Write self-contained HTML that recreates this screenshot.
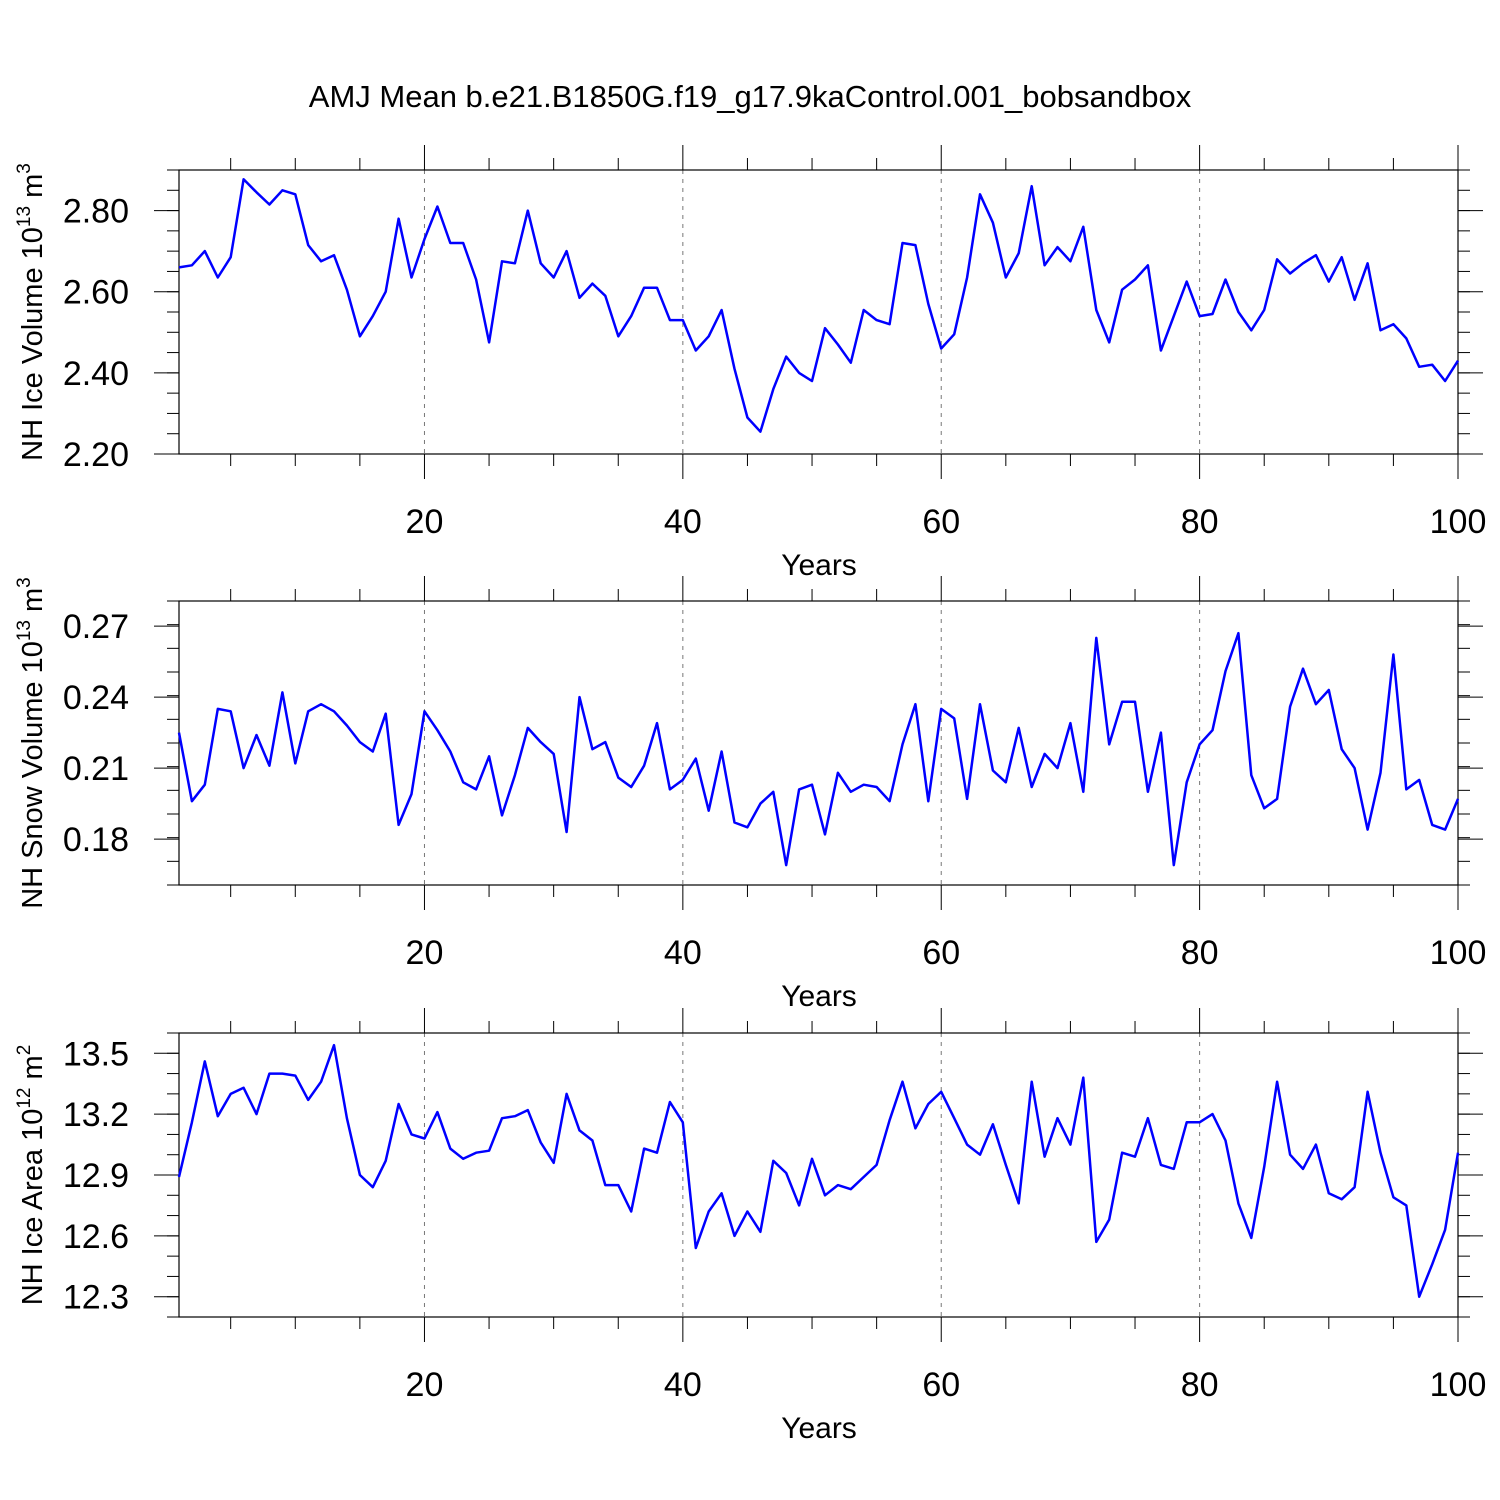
<!DOCTYPE html>
<html><head><meta charset="utf-8"><style>
body{margin:0;background:#fff}
svg{display:block;font-family:"Liberation Sans",sans-serif}
</style></head><body>
<svg id="c" width="1500" height="1500" viewBox="0 0 1500 1500">
<text x="750" y="107" text-anchor="middle" font-size="31">AMJ Mean b.e21.B1850G.f19_g17.9kaControl.001_bobsandbox</text>
</svg>
<script>
const iceVolume=[2.66,2.665,2.70,2.635,2.685,2.877,2.845,2.815,2.85,2.84,2.715,2.675,2.69,2.605,2.49,2.54,2.60,2.78,2.635,2.73,2.81,2.72,2.72,2.63,2.475,2.675,2.67,2.80,2.67,2.635,2.70,2.585,2.62,2.59,2.49,2.54,2.61,2.61,2.53,2.53,2.455,2.49,2.555,2.41,2.29,2.255,2.36,2.44,2.40,2.38,2.51,2.47,2.425,2.555,2.53,2.52,2.72,2.715,2.57,2.46,2.495,2.635,2.84,2.77,2.635,2.695,2.86,2.665,2.71,2.675,2.76,2.555,2.475,2.605,2.63,2.665,2.455,2.54,2.625,2.54,2.545,2.63,2.55,2.505,2.555,2.68,2.645,2.67,2.69,2.625,2.685,2.58,2.67,2.505,2.52,2.485,2.415,2.42,2.38,2.43];
const snowVolume=[0.225,0.196,0.203,0.235,0.234,0.21,0.224,0.211,0.242,0.212,0.234,0.237,0.234,0.228,0.221,0.217,0.233,0.186,0.199,0.234,0.226,0.217,0.204,0.201,0.215,0.19,0.207,0.227,0.221,0.216,0.183,0.24,0.218,0.221,0.206,0.202,0.211,0.229,0.201,0.205,0.214,0.192,0.217,0.187,0.185,0.195,0.2,0.169,0.201,0.203,0.182,0.208,0.2,0.203,0.202,0.196,0.22,0.237,0.196,0.235,0.231,0.197,0.237,0.209,0.204,0.227,0.202,0.216,0.21,0.229,0.2,0.265,0.22,0.238,0.238,0.2,0.225,0.169,0.204,0.22,0.226,0.251,0.267,0.207,0.193,0.197,0.236,0.252,0.237,0.243,0.218,0.21,0.184,0.208,0.258,0.201,0.205,0.186,0.184,0.197];
const iceArea=[12.89,13.16,13.46,13.19,13.30,13.33,13.20,13.40,13.40,13.39,13.27,13.36,13.54,13.18,12.90,12.84,12.97,13.25,13.10,13.08,13.21,13.03,12.98,13.01,13.02,13.18,13.19,13.22,13.06,12.96,13.30,13.12,13.07,12.85,12.85,12.72,13.03,13.01,13.26,13.16,12.54,12.72,12.81,12.60,12.72,12.62,12.97,12.91,12.75,12.98,12.80,12.85,12.83,12.89,12.95,13.17,13.36,13.13,13.25,13.31,13.18,13.05,13.00,13.15,12.95,12.76,13.36,12.99,13.18,13.05,13.38,12.57,12.68,13.01,12.99,13.18,12.95,12.93,13.16,13.16,13.20,13.07,12.76,12.59,12.94,13.36,13.00,12.93,13.05,12.81,12.78,12.84,13.31,13.01,12.79,12.75,12.30,12.46,12.63,13.01];
const xTicks=[20,40,60,80,100];
const yTicks1=["2.20","2.40","2.60","2.80"];
const yTicks2=["0.18","0.21","0.24","0.27"];
const yTicks3=["12.3","12.6","12.9","13.2","13.5"];

const svg=document.getElementById('c');
const NS='http://www.w3.org/2000/svg';
function mk(tag,attrs,parent){const e=document.createElementNS(NS,tag);for(const k in attrs)e.setAttribute(k,attrs[k]);(parent||svg).appendChild(e);return e;}
const X0=179,X1=1458;
function xs(v){return X0+(v-1)*(X1-X0)/99;}

function panel(top,ymin,ymax,ticks,minorStep,data,titleMain,exp,unit,name){
  const bot=top+284;
  const ys=v=>bot-(v-ymin)/(ymax-ymin)*284;
  const g=mk('g',{});
  
  
  xTicks.forEach(t=>{if(t<100){const l=mk('line',{x1:xs(t),x2:xs(t),y1:top,y2:bot,stroke:'#777','stroke-width':1,'stroke-dasharray':'4,5'},g);
    }});
  for(let t=5;t<=100;t+=5){const maj=t%20===0;const L=maj?25:12;
    [[top,top-L],[bot,bot+L]].forEach(p=>{const l=mk('line',{x1:xs(t),x2:xs(t),y1:p[0],y2:p[1],stroke:'#000','stroke-width':1},g);
      });}
  xTicks.forEach(t=>{const tx=mk('text',{x:xs(t),y:bot+79,'text-anchor':'middle','font-size':34},g);tx.textContent=t;
    });
  const xt=mk('text',{x:819,y:bot+121,'text-anchor':'middle','font-size':30},g);xt.textContent='Years';
  
  for(let v=ymin;v<=ymax+1e-9;v+=minorStep){const y=ys(v);if(y<top-0.5||y>bot+0.5)continue;
    [[X0,X0-12],[X1,X1+12]].forEach(p=>{const l=mk('line',{x1:p[0],x2:p[1],y1:y,y2:y,stroke:'#000','stroke-width':1},g);
      });}
  ticks.forEach(s=>{const y=ys(parseFloat(s));
    [[X0,X0-25],[X1,X1+25]].forEach(p=>{const l=mk('line',{x1:p[0],x2:p[1],y1:y,y2:y,stroke:'#000','stroke-width':1},g);
      });
    const tx=mk('text',{x:129,y:y+12,'text-anchor':'end','font-size':34},g);tx.textContent=s;
    });
  const fr=mk('rect',{x:X0,y:top,width:X1-X0,height:284,fill:'none',stroke:'#000','stroke-width':1.2},g);
  
  const pts=data.map((v,i)=>xs(i+1).toFixed(1)+','+ys(v).toFixed(1)).join(' ');
  const pl=mk('polyline',{points:pts,fill:'none',stroke:'#0000ff','stroke-width':2.5,'stroke-linejoin':'round'},g);
  
  const cy=top+142;
  const yt=mk('text',{x:0,y:0,'font-size':29,'text-anchor':'middle',transform:`translate(42,${cy}) rotate(-90)`},g);
  
  const a=mk('tspan',{},yt);a.textContent=titleMain+' 10';
  const b=mk('tspan',{dy:-12,'font-size':19},yt);b.textContent=exp;
  const c=mk('tspan',{dy:12},yt);c.textContent=' m';
  const d=mk('tspan',{dy:-12,'font-size':19},yt);d.textContent=unit;
}
panel(170,2.2,2.9,yTicks1,0.05,iceVolume,'NH Ice Volume','13','3','ice-volume');
panel(601,0.1606,0.2806,yTicks2,0.01,snowVolume,'NH Snow Volume','13','3','snow-volume');
panel(1033,12.2,13.6,yTicks3,0.1,iceArea,'NH Ice Area','12','2','ice-area');
</script>
</body></html>
